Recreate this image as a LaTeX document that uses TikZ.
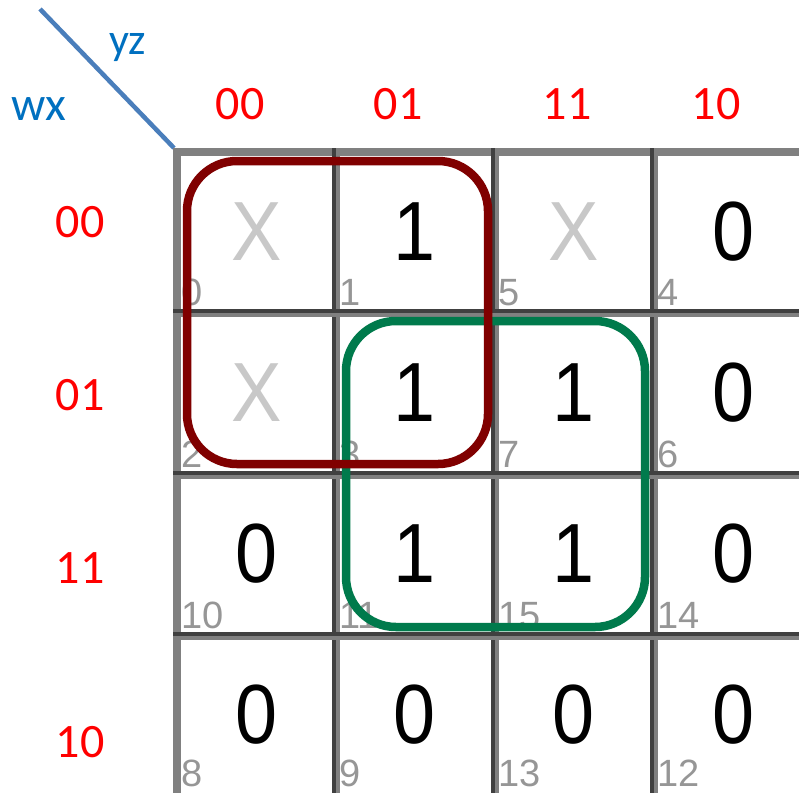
\documentclass[tikz,border=0pt]{standalone}
\usepackage{fontspec}
\setmainfont{Carlito}
\newfontfamily\arialf{Liberation Sans}
\newfontfamily\arialn{Liberation Sans}[FakeStretch=0.9]
\definecolor{gridgrey}{RGB}{128,128,128}
\definecolor{griddark}{RGB}{64,64,64}
\definecolor{labred}{RGB}{255,0,0}
\definecolor{labblue}{RGB}{0,112,192}
\definecolor{lineblue}{RGB}{74,126,187}
\definecolor{xgrey}{RGB}{200,200,200}
\definecolor{idxgrey}{RGB}{150,150,150}
\definecolor{grpred}{RGB}{128,0,0}
\definecolor{grpgreen}{RGB}{0,122,76}
\tikzset{
  lab/.style={inner sep=0pt, anchor=base, text=labred, font=\fontsize{48}{48}\selectfont},
  varlab/.style={inner sep=0pt, anchor=base west, text=labblue},
  val/.style={inner sep=0pt, anchor=base, font=\arialn\fontsize{84}{84}\selectfont},
  dc/.style={val, text=xgrey},
  idx/.style={inner sep=0pt, anchor=base west, text=idxgrey, font=\arialf\fontsize{38}{38}\selectfont},
  gl/.style={line width=4pt, line cap=butt},
  grp/.style={line width=8.5pt, rounded corners=50pt}
}
\begin{document}
\begin{tikzpicture}[x=1pt,y=-1pt]
\useasboundingbox (0,0) rectangle (799,793);
\clip (0,0) rectangle (799,793);
\fill[white] (0,0) rectangle (799,793);
% corner diagonal and variable labels
\coordinate (d1) at (40,9);
\coordinate (d2) at (174,148);
\draw[lineblue, line width=4.5pt] (d1) -- (d2);
\node[varlab, font=\fontsize{44}{44}\selectfont] (yz) at (109,54) {yz};
\node[varlab, font=\fontsize{48}{48}\selectfont] (wx) at (11,120) {wx};
% column labels
\node[lab] (c1) at (240,119) {00};
\node[lab] (c2) at (398,119) {01};
\node[lab] (c3) at (567,119) {11};
\node[lab] (c4) at (716,119) {10};
% row labels
\node[lab] (r1) at (80,237) {00};
\node[lab] (r2) at (80,410) {01};
\node[lab] (r3) at (80,583) {11};
\node[lab] (r4) at (80,757) {10};
% grid
\draw[gridgrey, line width=8pt] (173,152) -- (799,152);
\draw[gridgrey, line width=8pt] (177,148) -- (177,793);
\foreach \p in {336,495,654}{
  \draw[gl, griddark] (\p-2,148) -- (\p-2,793);
  \draw[gl, gridgrey] (\p+2,148) -- (\p+2,793);
}
\foreach \p in {313,475,636}{
  \draw[gl, griddark] (173,\p-2) -- (799,\p-2);
  \draw[gl, gridgrey] (173,\p+2) -- (799,\p+2);
}
% cell values
\node[dc]  (v0)  at (257,260) {X};
\node[val] (v1)  at (415,260) {1};
\node[dc]  (v5)  at (574,260) {X};
\node[val] (v4)  at (734,260) {0};
\node[dc]  (v2)  at (257,421) {X};
\node[val] (v3)  at (415,421) {1};
\node[val] (v7)  at (574,421) {1};
\node[val] (v6)  at (734,421) {0};
\node[val] (v10) at (257,582) {0};
\node[val] (v11) at (415,582) {1};
\node[val] (v15) at (574,582) {1};
\node[val] (v14) at (734,582) {0};
\node[val] (v8)  at (257,743) {0};
\node[val] (v9)  at (415,743) {0};
\node[val] (v13) at (574,743) {0};
\node[val] (v12) at (734,743) {0};
% cell indices
\node[idx] (i0)  at (181,305) {0};
\node[idx] (i1)  at (339,305) {1};
\node[idx] (i5)  at (498,305) {5};
\node[idx] (i4)  at (657,305) {4};
\node[idx] (i2)  at (181,467) {2};
\node[idx] (i3)  at (339,467) {3};
\node[idx] (i7)  at (498,467) {7};
\node[idx] (i6)  at (657,467) {6};
\node[idx] (i10) at (181,628) {10};
\node[idx] (i11) at (339,628) {11};
\node[idx] (i15) at (498,628) {15};
\node[idx] (i14) at (657,628) {14};
\node[idx] (i8)  at (181,786) {8};
\node[idx] (i9)  at (339,786) {9};
\node[idx] (i13) at (498,786) {13};
\node[idx] (i12) at (657,786) {12};
% groups
\draw[grp, grpgreen] (346,321) rectangle (645,627);
\draw[grp, grpred] (187,161) rectangle (488,464);
\end{tikzpicture}
\end{document}
